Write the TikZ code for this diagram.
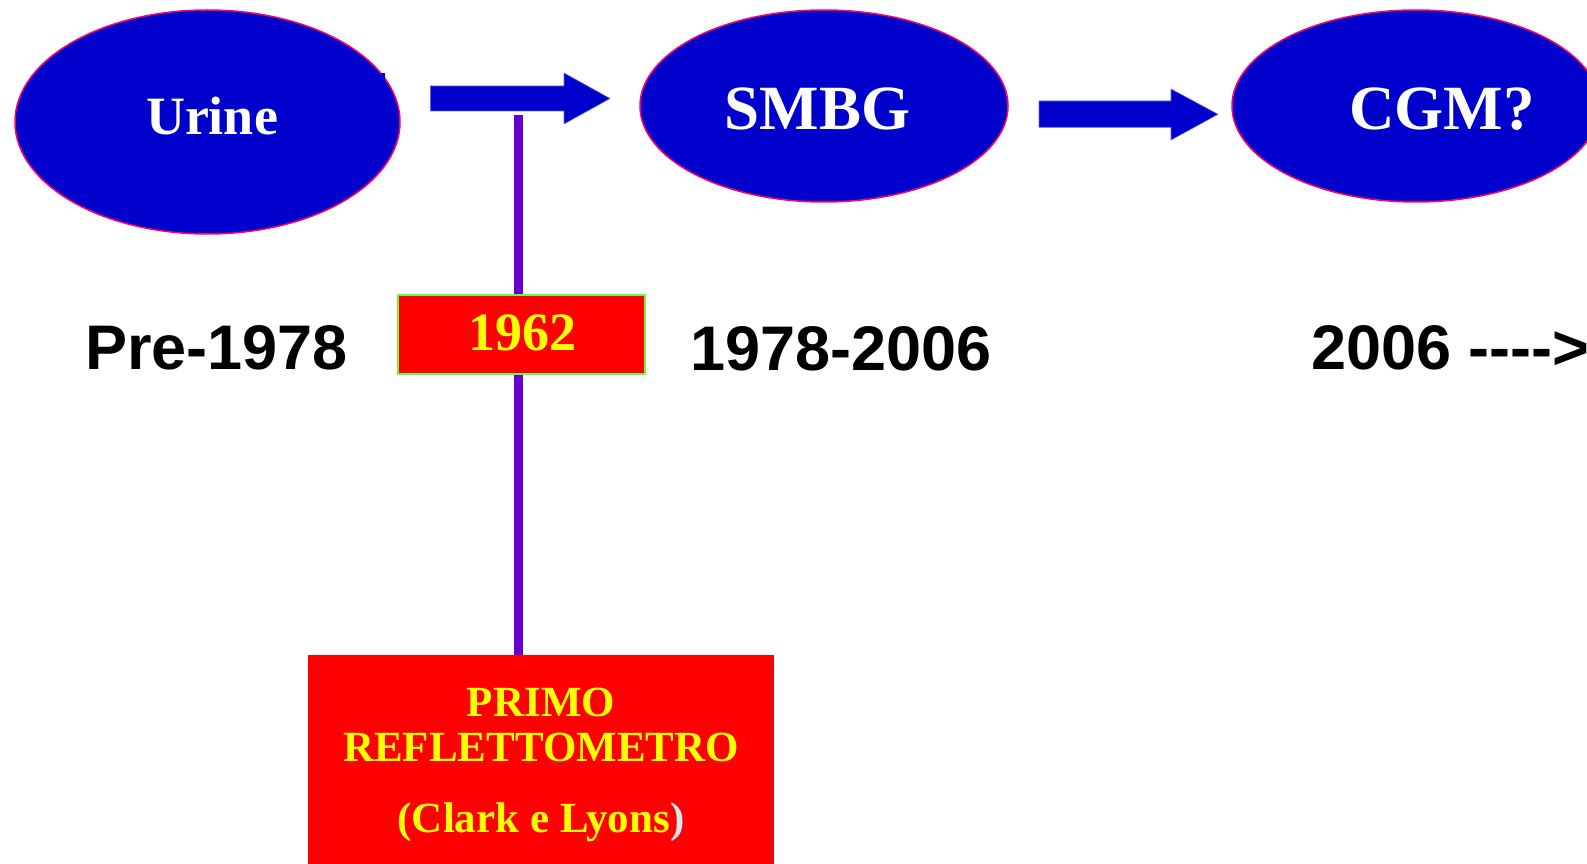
\documentclass[tikz,border=0pt]{standalone}
\usepackage{fontspec}
\setmainfont{Liberation Serif}
\newfontfamily\arialf{Liberation Sans}
\usetikzlibrary{shapes.geometric,backgrounds}
\definecolor{ellblue}{HTML}{0000CC}
\definecolor{ellpink}{HTML}{FF0066}
\definecolor{linepurple}{HTML}{6600CC}
\definecolor{boxred}{HTML}{FF0000}
\definecolor{boxgreen}{HTML}{66FF33}
\definecolor{txtyellow}{HTML}{FFFF00}
\definecolor{arrowedge}{HTML}{6666DD}
\definecolor{parenpale}{HTML}{D8E6EE}
\tikzset{
  blob/.style={ellipse, fill=ellblue, draw=ellpink, line width=1.5pt, inner sep=0pt, outer sep=0pt},
  blobtext/.style={text=white, font=\bfseries\fontsize{63}{70}\selectfont, inner sep=0pt, anchor=base},
  urinetext/.style={text=white, font=\bfseries\fontsize{54}{60}\selectfont, inner sep=0pt, anchor=base},
  yeartext/.style={text=black, font=\arialf\bfseries\fontsize{63}{70}\selectfont, inner sep=0pt},
  blockarrow/.style={fill=ellblue, draw=arrowedge, line width=0.6pt},
  redbox/.style={rectangle, fill=boxred, inner sep=0pt, outer sep=0pt},
  yearbox/.style={redbox, draw=boxgreen, line width=2pt},
  boxtext/.style={text=txtyellow, font=\bfseries\fontsize{43}{48}\selectfont, inner sep=0pt, anchor=base},
  yeartag/.style={text=txtyellow, font=\bfseries\fontsize{54}{60}\selectfont, inner sep=0pt, anchor=base},
  linkline/.style={draw=linepurple, line width=9pt},
}
\begin{document}
\begin{tikzpicture}[x=1pt,y=-1pt]
\useasboundingbox (0,0) rectangle (1587,864);
\clip (0,0) rectangle (1587,864);

% ellipses
\node[blob, minimum width=385, minimum height=224] (urine) at (207.5,122) {};
\node[urinetext] (urinet) at (212,135) {Urine};
\fill[ellblue] (381,73) rectangle (384.5,80);

\node[blob, minimum width=368, minimum height=192] (smbg) at (824,106) {};
\node[blobtext] (smbgt) at (817.5,130) {SMBG};

\node[blob, minimum width=368, minimum height=192] (cgm) at (1416,106) {};
\node[blobtext] (cgmt) at (1442,130) {CGM?};

% block arrows
\filldraw[blockarrow] (430.5,86) -- (564,86) -- (564,73) -- (610,98.5) -- (564,124) -- (564,111) -- (430.5,111) -- cycle;
\filldraw[blockarrow] (1039,101) -- (1171,101) -- (1171,89) -- (1218,114.3) -- (1171,140) -- (1171,127.3) -- (1039,127.3) -- cycle;

% year labels
\node[yeartext, anchor=base] (pre) at (216.7,369) {Pre-1978};
\node[yeartext, anchor=base] (mid) at (841,370) {1978-2006};
\node[yeartext, anchor=base west] (post) at (1311,369) {2006 ---->};

% 1962 box
\node[yearbox, minimum width=247, minimum height=79] (y1962) at (521.5,334.5) {};
\node[yeartag] (y1962t) at (522,350) {1962};

% bottom box
\node[redbox, minimum width=466, minimum height=230, anchor=north] (refl) at (541,655) {};
\node[boxtext] (l1) at (541,716) {PRIMO};
\node[boxtext] (l2) at (541,761.7) {REFLETTOMETRO};
\node[boxtext] (l3) at (541,832.7) {(Clark e Lyons{\color{parenpale})}};

% connector
\coordinate (ltop) at (518.5,115);
\begin{scope}[on background layer]
\draw[linkline] (ltop) -- (ltop |- refl.north);
\end{scope}
\end{tikzpicture}
\end{document}
